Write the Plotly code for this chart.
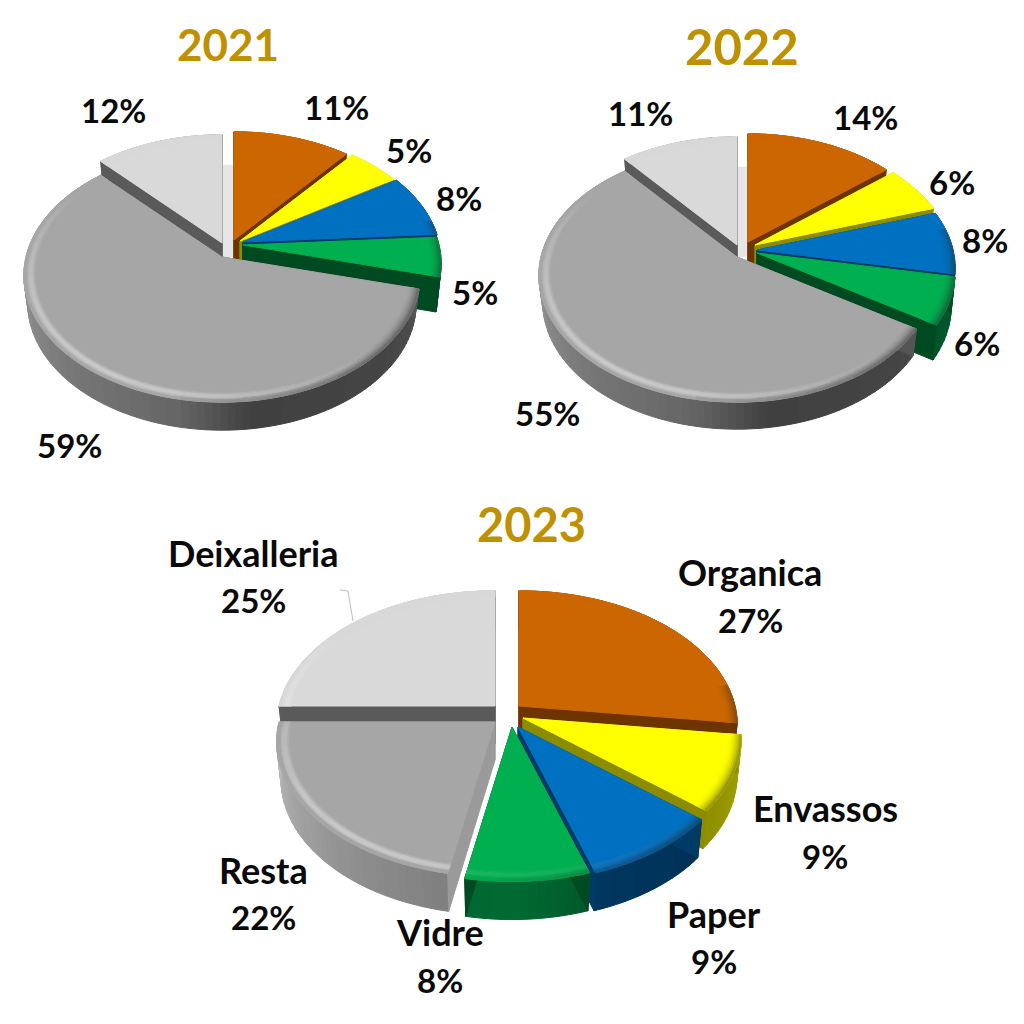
import numpy as np
import plotly.graph_objects as go

# ---- data ----
categories = ["Organica", "Envassos", "Paper", "Vidre", "Resta", "Deixalleria"]
years = ["2021", "2022", "2023"]
values_2021 = [11, 5, 8, 5, 59, 12]
values_2022 = [14, 6, 8, 6, 55, 11]
values_2023 = [27, 9, 9, 8, 22, 25]

top_colors = ["#CC6600", "#FFFF00", "#0070C0", "#00B050", "#A6A6A6", "#D9D9D9"]
face_colors = ["#6E3400", "#8C8C00", "#003A66", "#004A22", "#555555", "#5A5A5A"]
wall_colors = ["#6E3400", "#A8A800", "#003A66", "#00602E", "#707070", "#707070"]

# ---- layout of each pie: perspective disc, and where each exploded slice sits ----
K = 0.146
pies = {
    "2021": dict(values=values_2021, R=196, H=124, depth=[28, 28, 28, 35, 28, 28], gain=1.0, gap=True,
                 grey_face="#555555",
                 apex=[(234, 240), (240, 241), (243, 242), (243, 245), (222, 257), (222, 243)]),
    "2022": dict(values=values_2022, R=196, H=124, depth=[27, 27, 27, 35, 27, 27], gain=1.0, gap=True,
                 grey_face="#555555",
                 apex=[(748, 242), (755, 245), (757, 250), (757, 253), (737, 257), (737, 245)]),
    "2023": dict(values=values_2023, R=216, H=132, depth=[38, 38, 38, 38, 38, 38], gain=1.25, gap=False,
                 grey_face="#9A9A9A",
                 apex=[(519, 706), (523, 718), (518, 727), (512, 727), (495, 722), (495, 706)]),
}
title_pos = {"2021": (228, 44), "2022": (742, 46), "2023": (531, 524)}
title_size = {"2021": 44, "2022": 49, "2023": 47}
pct_pos = {
    "2021": [(336, 107), (409, 150), (459, 198), (475, 292), (69, 445), (113, 110)],
    "2022": [(865, 117), (952, 182), (985, 240), (977, 343), (547, 413), (640, 113)],
    "2023": [(750, 620), (825, 856), (714, 961), (440, 980), (263, 917), (253, 600)],
}
name_pos_2023 = [(750, 572), (825, 808), (714, 914), (440, 932), (263, 870), (253, 553)]
PCT_FONT = dict(family="Lato", size=33, color="#0A0A0A", weight="bold")
NAME_FONT = dict(family="Lato", size=36, color="#0A0A0A", weight="bold")


def hex2rgb(c):
    return np.array([int(c[i:i + 2], 16) for i in (1, 3, 5)], dtype=float)


def rgb2hex(a):
    a = np.clip(np.round(a / 2) * 2, 0, 255).astype(int)
    return "#%02X%02X%02X" % tuple(a)


def mix(c, other, t):
    return c + (other - c) * t


def project(r, t, apex, R, H):
    u, v = r * np.sin(t), r * np.cos(t)
    w = 1 + K * v
    return apex[0] + R * u / w, apex[1] - H * v / w


def drop(x, y, apex, depth, sc=0.98):
    return apex[0] + (np.asarray(x) - apex[0]) * sc, np.asarray(y) + depth


fig = go.Figure()


def flush(groups):
    for col, polys in groups.items():
        xs, ys = [], []
        for px, py in polys:
            xs += list(px) + [px[0], None]
            ys += list(py) + [py[0], None]
        fig.add_trace(go.Scatter(x=xs, y=ys, mode="lines", fill="toself", fillcolor=col,
                                 line=dict(color=col, width=1.0), hoverinfo="skip",
                                 showlegend=False))


def wall_shade(i, deg, gain):
    d = deg % 360
    if i >= 4:
        v = np.interp(d, [90, 130, 172, 192, 220, 250, 275, 320],
                      [0x58, 0x45, 0x40, 0x66, 0x75, 0x8A, 0x9C, 0x90])
        return np.array([v, v, v]) * gain
    f = np.interp(d, [90, 130, 165, 180, 270], [1.0, 0.85, 0.95, 1.1, 1.0])
    return hex2rgb(wall_colors[i]) * f


RINGS = np.linspace(0.94, 1.0, 9)


def draw_slice(i, t0, t1, apex, R, H, depth, gain, grey_face):
    steps = max(4, int(np.degrees(t1 - t0) / 2))
    ts = np.linspace(t0, t1, steps + 1)
    # outer wall
    groups = {}
    for a, b in zip(ts[:-1], ts[1:]):
        xa, ya = project(1.0, a, apex, R, H)
        xb, yb = project(1.0, b, apex, R, H)
        xd, yd = drop([xa, xb], [ya, yb], apex, depth)
        col = rgb2hex(wall_shade(i, np.degrees((a + b) / 2), gain))
        groups.setdefault(col, []).append(([xa, xb, xd[1], xd[0]], [ya, yb, yd[1], yd[0]]))
    flush(groups)
    # radial faces
    groups = {}
    face = grey_face if i == 4 else face_colors[i]
    for t in (t0, t1):
        ex, ey = project(1.0, t, apex, R, H)
        x2, y2 = drop([apex[0], ex], [apex[1], ey], apex, depth)
        groups.setdefault(face, []).append(([apex[0], ex, x2[1], x2[0]],
                                            [apex[1], ey, y2[1], y2[0]]))
    flush(groups)
    # top face
    arc_x, arc_y = project(1.0, ts, apex, R, H)
    flush({top_colors[i]: [([apex[0]] + list(arc_x), [apex[1]] + list(arc_y))]})
    # soft bevel on the rim, only on the front of the disc
    base = hex2rgb(top_colors[i])
    white, black = np.array([255.0] * 3), np.array([40.0] * 3)
    groups = {}
    for r0, r1 in zip(RINGS[:-1], RINGS[1:]):
        q = ((r0 + r1) / 2 - 0.94) / 0.06
        hi = np.sin(np.pi * min(q / 0.85, 1.0)) ** 2
        lo = q ** 2
        for a, b in zip(ts[:-1], ts[1:]):
            m = (a + b) / 2
            deg = np.degrees(m)
            light = max(0.0, np.cos(m - np.radians(215))) if 120 < deg < 330 else 0.0
            dark = max(0.0, np.cos(m - np.radians(120))) ** 2 if 80 < deg < 190 else 0.0
            if i < 4:
                light *= 0.3
            col = mix(mix(base, white, 0.4 * hi * light), black, 0.55 * lo * dark)
            xo, yo = project(r1, np.array([a, b]), apex, R, H)
            xi, yi = project(r0, np.array([a, b]), apex, R, H)
            groups.setdefault(rgb2hex(col), []).append(([xo[0], xo[1], xi[1], xi[0]],
                                                        [yo[0], yo[1], yi[1], yi[0]]))
    flush(groups)


for year, p in pies.items():
    vals = np.array(p["values"], dtype=float)
    edges = np.concatenate([[0], np.cumsum(vals)]) / vals.sum() * 2 * np.pi
    if p["gap"]:
        lx, ly = p["apex"][5]
        ox, oy = p["apex"][0]
        gx, gy = p["apex"][4]
        top = ly - p["H"] / (1 + K) + 30
        fig.add_trace(go.Scatter(x=[lx, ox, ox, lx, lx], y=[top, top, gy, gy, top],
                                 mode="lines", fill="toself", fillcolor="#E6E6E6",
                                 line=dict(width=0), hoverinfo="skip", showlegend=False))
    # painter's order: back slice first, the large grey slice last
    for i in [5, 0, 1, 2, 3, 4]:
        draw_slice(i, edges[i], edges[i + 1], p["apex"][i], p["R"], p["H"], p["depth"][i],
                   p["gain"], p["grey_face"])

annotations = []
for year in years:
    x, y = title_pos[year]
    annotations.append(dict(x=x, y=y, text=year, showarrow=False,
                            font=dict(family="Lato", size=title_size[year], color="#BF9000", weight="bold"),
                            xanchor="center", yanchor="middle"))
    for v, (x, y) in zip(pies[year]["values"], pct_pos[year]):
        annotations.append(dict(x=x, y=y, text=f"{v}%", showarrow=False, font=PCT_FONT,
                                xanchor="center", yanchor="middle"))
for name, (x, y) in zip(categories, name_pos_2023):
    annotations.append(dict(x=x, y=y, text=name, showarrow=False, font=NAME_FONT,
                            xanchor="center", yanchor="middle"))

fig.update_layout(
    width=1008, height=1008, margin=dict(l=0, r=0, t=0, b=0),
    paper_bgcolor="white", plot_bgcolor="white", showlegend=False,
    xaxis=dict(range=[8, 1016], visible=False, fixedrange=True),
    yaxis=dict(range=[1016, 8], visible=False, fixedrange=True),
    annotations=annotations,
    shapes=[dict(type="path", path="M 340 590 L 348 591 L 353 621",
                 line=dict(color="#BFBFBF", width=1))],
)
fig.write_html("out.html")
